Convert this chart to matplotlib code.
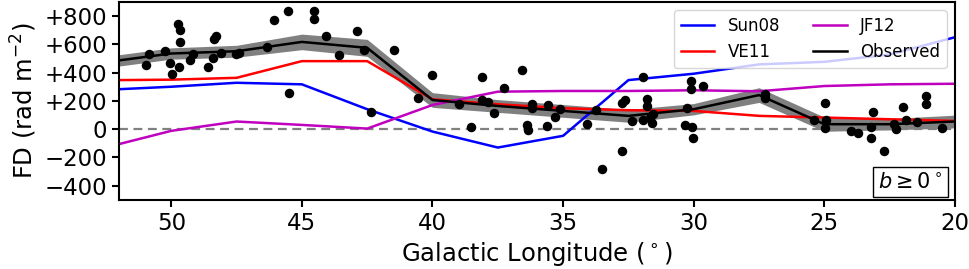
import matplotlib
matplotlib.use("Agg")
import matplotlib.pyplot as plt
from matplotlib.ticker import FuncFormatter
import numpy as np

# Model grid (Galactic longitude, deg)
lon = [52.5, 50, 47.5, 45, 42.5, 40, 37.5, 35, 32.5, 30, 27.5, 25, 22.5, 20]
sun08 = [278, 300, 328, 317, 141, -17, -130, -47, 347, 392, 458, 476, 528, 650]
ve11 = [346, 350, 363, 481, 481, 211, 176, 148, 134, 129, 94, 82, 70, 58]
jf12 = [-129, -12, 54, 30, 4, 171, 265, 270, 270, 275, 268, 305, 317, 321]
observed = [474, 535, 551, 617, 575, 206, 164, 129, 94, 141, 241, 35, 35, 54]
obs_err = [40, 40, 42, 55, 60, 52, 45, 45, 45, 40, 52, 50, 40, 45]

# Individual sources
src_l = [50.95, 50.84, 50.24, 50.04, 49.99, 49.76, 49.66, 49.66, 49.72, 49.30,
         49.18, 48.61, 48.42, 48.38, 48.27, 48.10, 47.52, 47.40, 46.35, 46.08,
         45.55, 45.48, 44.52, 44.52, 44.06, 43.56, 42.88, 42.64, 41.49, 42.35,
         40.01, 40.54, 39.00, 38.52, 38.12, 38.12, 37.89, 37.66, 37.28, 36.56,
         36.40, 36.33, 36.18, 36.21, 35.57, 35.60, 35.30, 35.11, 34.09, 33.74,
         33.50, 32.75, 32.65, 32.75, 32.35, 31.96, 31.96, 31.77, 31.79, 31.69,
         31.59, 31.56, 30.33, 30.25, 30.11, 30.09, 30.07, 30.04, 29.65, 27.27,
         27.27, 24.97, 25.38, 24.93, 24.96, 23.98, 23.71, 23.13, 23.20, 23.20,
         22.72, 22.33, 22.26, 21.99, 21.88, 21.44, 21.09, 21.09, 20.48]
src_fd = [453, 532, 551, 465, 389, 746, 704, 613, 437, 486,
          528, 437, 500, 634, 657, 542, 535, 539, 584, 770,
          838, 253, 833, 782, 657, 523, 697, 563, 563, 122,
          382, 218, 176, 16, 366, 204, 192, 113, 289, 415,
          30, -5, 180, 152, 171, 21, 84, 141, 35, 134,
          -282, 187, 204, -155, 58, 366, 65, 213, 162, 82,
          42, 106, 30, 148, 338, 282, 16, -61, 303, 251,
          218, 185, 65, 65, 9, -12, -24, 122, 18, -63,
          -155, 35, 0, 157, 65, 54, 235, 176, 7]

yticks = [-400, -200, 0, 200, 400, 600, 800]
xticks = [50, 45, 40, 35, 30, 25, 20]

fig = plt.figure(figsize=(9.7, 2.69), dpi=100)
ax = fig.add_axes([0.1227, 0.257, 0.8618, 0.736])

obs = np.array(observed)
err = np.array(obs_err)
ax.fill_between(lon, obs - err, obs + err, color='gray', lw=0, zorder=1)
ax.axhline(0, color='gray', ls='--', lw=1.6, dashes=(4, 2.5), zorder=1.5)
ax.plot(lon, sun08, color='b', lw=1.8, label='Sun08', zorder=2)
ax.plot(lon, ve11, color='r', lw=1.8, label='VE11', zorder=2)
ax.plot(lon, jf12, color='m', lw=1.8, label='JF12', zorder=2)
ax.plot(lon, observed, color='k', lw=1.8, label='Observed', zorder=3)
ax.scatter(src_l, src_fd, s=34, color='k', zorder=4)

ax.set_xlim(52, 20)
ax.set_ylim(-500, 900)
ax.set_xticks(xticks)
ax.set_yticks(yticks)
ax.yaxis.set_major_formatter(FuncFormatter(
    lambda v, p: '0' if v == 0 else ('+%d' % v if v > 0 else '\u2212%d' % abs(v))))
ax.tick_params(labelsize=16.5, width=1.5, length=5)
for s in ax.spines.values():
    s.set_linewidth(1.5)
ax.set_xlabel('Galactic Longitude ($^\\circ$)', fontsize=17.5)
ax.set_ylabel('FD (rad m$^{-2}$)', fontsize=17.5)

ax.legend(loc='upper right', ncol=2, fontsize=12, columnspacing=2.0)
ax.text(0.985, 0.04, '$b \\geq 0^\\circ$', transform=ax.transAxes, ha='right', va='bottom',
        fontsize=15, bbox=dict(boxstyle='square,pad=0.25', fc='white', ec='k', lw=1))

fig.savefig('out.png', dpi=100)
